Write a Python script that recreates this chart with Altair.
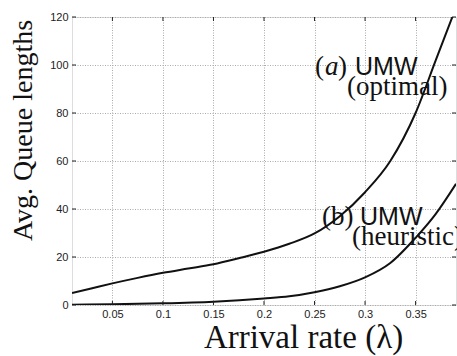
import altair as alt
import pandas as pd

# Curve (a) UMW (optimal)
lam_a = [0.01, 0.03, 0.05, 0.075, 0.10, 0.125, 0.15, 0.175, 0.20, 0.225, 0.25, 0.275, 0.30, 0.325, 0.35, 0.37, 0.39]
q_a = [5.0, 7.0, 9.0, 11.3, 13.4, 15.2, 17.0, 19.5, 22.2, 25.5, 29.8, 37.0, 47.0, 60.0, 80.0, 102.0, 124.0]

# Curve (b) UMW (heuristic)
lam_b = [0.01, 0.05, 0.10, 0.15, 0.20, 0.225, 0.25, 0.275, 0.30, 0.325, 0.35, 0.37, 0.39]
q_b = [0.1, 0.3, 0.7, 1.4, 2.7, 3.6, 5.3, 7.8, 11.5, 17.5, 28.0, 38.0, 50.5]

x_ticks = [0.05, 0.10, 0.15, 0.20, 0.25, 0.30, 0.35]
y_ticks = [0, 20, 40, 60, 80, 100, 120]

df = pd.concat([
    pd.DataFrame({"lam": lam_a, "q": q_a, "series": "a"}),
    pd.DataFrame({"lam": lam_b, "q": q_b, "series": "b"}),
])

W, H = 384, 288

xs = alt.Scale(domain=[0.01, 0.39], nice=False, zero=False)
ys = alt.Scale(domain=[0, 120], nice=False)

x_axis = alt.Axis(values=x_ticks, format=".2~f", title="Arrival rate (λ)",
                  grid=True, gridColor="#aaa", gridDash=[1, 1.5], gridWidth=1,
                  ticks=False, domain=False, labelFont="Liberation Sans",
                  labelFontSize=11, labelColor="#222", labelPadding=3,
                  titleFont="Liberation Serif", titleFontSize=33,
                  titleFontWeight="normal", titleColor="#111",
                  titleX=231, titleY=42, titleAlign="center",
                  titleBaseline="alphabetic")
y_axis = alt.Axis(values=y_ticks, title="Avg. Queue lengths",
                  grid=True, gridColor="#aaa", gridDash=[1, 1.5], gridWidth=1,
                  ticks=False, domain=False, labelFont="Liberation Sans",
                  labelFontSize=11, labelColor="#222", labelPadding=4,
                  titleFont="Liberation Serif", titleFontSize=28,
                  titleFontWeight="normal", titleColor="#111",
                  titleX=-41, titleY=113, titleAngle=270,
                  titleAlign="center", titleBaseline="alphabetic")

lines = alt.Chart(df).mark_line(color="#111", strokeWidth=2, clip=True,
                                interpolate="monotone").encode(
    x=alt.X("lam:Q", scale=xs, axis=x_axis),
    y=alt.Y("q:Q", scale=ys, axis=y_axis),
    detail="series:N",
)

# inward tick marks on the frame
yt = pd.DataFrame({"q": y_ticks})
xt = pd.DataFrame({"lam": x_ticks})
lt = alt.Chart(yt).mark_rule(color="#222", strokeWidth=1).encode(
    y=alt.Y("q:Q", scale=ys), x=alt.value(0), x2=alt.value(4))
rt = alt.Chart(yt).mark_rule(color="#222", strokeWidth=1).encode(
    y=alt.Y("q:Q", scale=ys), x=alt.value(W - 4), x2=alt.value(W))
bt = alt.Chart(xt).mark_rule(color="#222", strokeWidth=1).encode(
    x=alt.X("lam:Q", scale=xs), y=alt.value(H - 4), y2=alt.value(H))
tt = alt.Chart(xt).mark_rule(color="#222", strokeWidth=1).encode(
    x=alt.X("lam:Q", scale=xs), y=alt.value(0), y2=alt.value(4))

def txt(s, x, y, font, size, style="normal"):
    return alt.Chart(pd.DataFrame({"t": [s]})).mark_text(
        font=font, fontSize=size, fontStyle=style, align="left",
        baseline="alphabetic", color="#111").encode(
        text="t:N", x=alt.value(x), y=alt.value(y))

labels = [
    txt("(", 243, 58, "Liberation Serif", 27),
    txt("a", 253, 58, "Liberation Serif", 27, "italic"),
    txt(")", 266, 58, "Liberation Serif", 27),
    txt("UMW", 283, 58, "Liberation Sans", 25),
    txt("(optimal)", 275, 78, "Liberation Serif", 27),
    txt("(b)", 250, 208, "Liberation Serif", 27),
    txt("UMW", 288, 208, "Liberation Sans", 25),
    txt("(heuristic)", 280, 228, "Liberation Serif", 27),
]

chart = alt.layer(lines, lt, rt, bt, tt, *labels).properties(
    width=W, height=H,
    autosize=alt.AutoSizeParams(type="none"),
    padding={"left": 72, "top": 17, "right": 1, "bottom": 51},
).configure_view(stroke="#111", strokeWidth=1.5).configure(background="white")

chart.save("out.html", embed_options={"renderer": "svg", "actions": False})
